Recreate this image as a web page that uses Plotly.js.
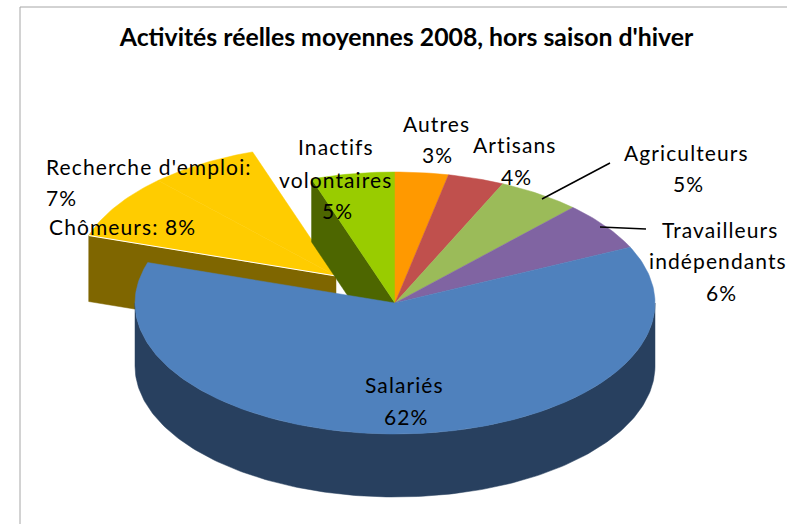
<!DOCTYPE html>
<html>
<head>
<meta charset="utf-8">
<script src="https://cdn.plot.ly/plotly-3.0.1.min.js"></script>
<style>
html,body{margin:0;padding:0;background:#fff}
#chart{width:796px;height:524px}
.annotation-text{letter-spacing:1.1px}
</style>
</head>
<body>
<div id="chart"></div>
<script>
// Data (the labels show these values rounded)
var categories = ["Autres","Artisans","Agriculteurs","Travailleurs indépendants","Salariés","Chômeurs","Recherche d'emploi","Inactifs volontaires"];
var shares = [3.3,3.5,5.2,6,62,8,6.8,5.2];
var topColors = ["#FF9900","#C0504D","#9BBB59","#8064A2","#4F81BD","#FFCC00","#FFCC00","#99CC00"];
var wallColors = {salaries:"#28405F", yellow:"#7F6600", green:"#4D6600"};

// Label text lines and their anchor points
var labelTexts = ["Autres","3%","Artisans","4%","Agriculteurs","5%","Travailleurs","indépendants","6%","Inactifs","volontaires","5%","Salariés","62%","Chômeurs: 8%"];
var labelX = [436,437,515,516,686,688,720,718,721,336,335,337,404,406,122];
var labelY = [123,154,144,176,152,183,229,260,292,146,179,210,384,416,226];
var leftLabelTexts = ["Recherche d'emploi:","7%"];
var leftLabelX = [44,44];
var leftLabelY = [166,197];

// Pie geometry in the plot's own coordinates
var cx = 395, cy = 303, rx = 260, ry = 131, depth = 63, yellowDepth = 66;
var explodeX = -59, explodeY = -27;
var total = shares.reduce(function(a,b){return a+b;},0);

function pt(frac, dx, dy){
  var a = frac*2*Math.PI;
  return [cx+(dx||0)+rx*Math.sin(a), cy+(dy||0)-ry*Math.cos(a)];
}
function arc(f0,f1,dx,dy){
  var n = Math.max(2,Math.ceil(Math.abs(f1-f0)*360)), out=[];
  for(var i=0;i<=n;i++) out.push(pt(f0+(f1-f0)*i/n,dx,dy));
  return out;
}
function poly(points,color,name){
  var xs=points.map(function(p){return p[0];}), ys=points.map(function(p){return p[1];});
  xs.push(xs[0]); ys.push(ys[0]);
  return {type:"scatter",mode:"lines",x:xs,y:ys,fill:"toself",fillcolor:color,
    line:{width:0.5,color:color},name:name,hoverinfo:"name",showlegend:false};
}

var bounds=[0], cum=0;
shares.forEach(function(v){cum+=v; bounds.push(cum/total);});
var iSal=categories.indexOf("Salariés"), iCho=categories.indexOf("Chômeurs"), iRec=categories.indexOf("Recherche d'emploi"), iIna=categories.indexOf("Inactifs volontaires");

var traces=[];
// exploded yellow slices: cut-face wall first, then top
var ya=pt(bounds[iCho],explodeX,explodeY);
traces.push(poly([ya,[cx+explodeX,cy+explodeY],[cx+explodeX,cy+explodeY+yellowDepth],[ya[0],ya[1]+yellowDepth]],wallColors.yellow,"Chômeurs (côté)"));
[iCho,iRec].forEach(function(i){
  traces.push(poly([[cx+explodeX,cy+explodeY]].concat(arc(bounds[i],bounds[i+1],explodeX,explodeY)),topColors[i],categories[i]));
});
// white seam along yellow edge
traces.push({type:"scatter",mode:"lines",x:[ya[0],cx+explodeX],y:[ya[1],cy+explodeY],line:{color:"#fff",width:1},hoverinfo:"skip",showlegend:false});
// green cut face
var ga=pt(bounds[iIna]);
traces.push(poly([ga,[cx,cy],[cx,cy+depth],[ga[0],ga[1]+depth]],wallColors.green,"Inactifs (côté)"));
// blue outer wall
var wallTop=arc(0.25,0.75), wallBottom=arc(0.75,0.25,0,depth);
traces.push(poly(wallTop.concat(wallBottom),wallColors.salaries,"Salariés (côté)"));
// remaining tops
[iIna,0,1,2,3,iSal].forEach(function(i){
  traces.push(poly([[cx,cy]].concat(arc(bounds[i],bounds[i+1])),topColors[i],categories[i]));
});

var labelFont={family:"Lato, sans-serif",size:21,color:"#000"};
var annotations=[];
labelTexts.forEach(function(t,i){
  annotations.push({text:t,x:labelX[i],y:labelY[i],xref:"x",yref:"y",showarrow:false,xanchor:"center",yanchor:"middle",font:labelFont});
});
leftLabelTexts.forEach(function(t,i){
  annotations.push({text:t,x:leftLabelX[i],y:leftLabelY[i],xref:"x",yref:"y",showarrow:false,xanchor:"left",yanchor:"middle",font:labelFont});
});

var layout={
  width:796,height:524,margin:{l:0,r:0,t:0,b:0},
  paper_bgcolor:"#fff",plot_bgcolor:"#fff",showlegend:false,
  title:{text:"<b>Activités réelles moyennes 2008, hors saison d'hiver</b>",x:406.5/796,xanchor:"center",y:1-37/524,yanchor:"middle",font:{family:"Lato, sans-serif",size:24.8,color:"#000"}},
  xaxis:{range:[0,796],visible:false,fixedrange:true},
  yaxis:{range:[524,0],visible:false,fixedrange:true},
  annotations:annotations,
  shapes:[
    {type:"line",xref:"x",yref:"y",x0:20,y0:7,x1:787,y1:7,line:{color:"#A6A6A6",width:1}},
    {type:"line",xref:"x",yref:"y",x0:20,y0:7,x1:20,y1:524,line:{color:"#A6A6A6",width:1}},
    {type:"line",xref:"x",yref:"y",x0:542,y0:199,x1:610,y1:163,line:{color:"#000",width:1.5}},
    {type:"line",xref:"x",yref:"y",x0:600,y0:227,x1:646,y1:229,line:{color:"#000",width:1.5}}
  ]
};
Plotly.newPlot("chart",traces,layout,{displayModeBar:false,staticPlot:true});
</script>
</body>
</html>
